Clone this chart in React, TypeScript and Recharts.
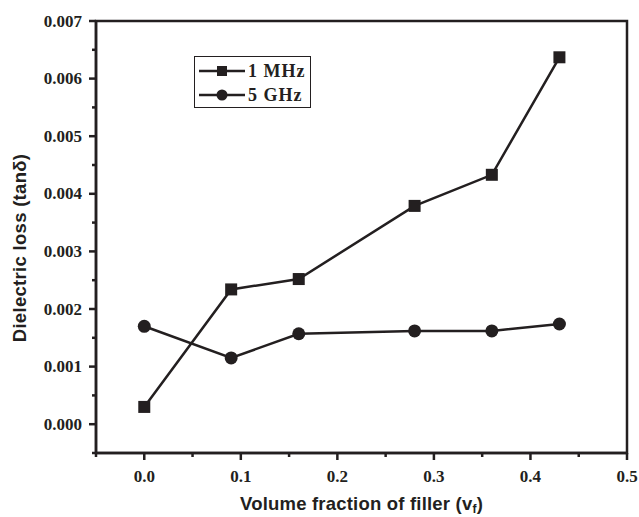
import React from "react";
import { LineChart, Line, XAxis, YAxis, ReferenceArea, Legend, Label } from "recharts";

const xValues = [0, 0.09, 0.16, 0.28, 0.36, 0.43];
const mhz1Values = [0.0003, 0.00234, 0.00252, 0.00379, 0.00433, 0.00637];
const ghz5Values = [0.0017, 0.00115, 0.00157, 0.00162, 0.00162, 0.00174];
const seriesNames = ["1 MHz", "5 GHz"];
const xTicks = [-0.05, 0, 0.05, 0.1, 0.15, 0.2, 0.25, 0.3, 0.35, 0.4, 0.45, 0.5];
const yTicks = [-0.0005, 0, 0.0005, 0.001, 0.0015, 0.002, 0.0025, 0.003, 0.0035, 0.004, 0.0045, 0.005, 0.0055, 0.006, 0.0065, 0.007];
const xTitle = "Volume fraction of filler (v";
const xTitleSub = "f";
const yTitle = "Dielectric loss (tanδ)";

const data = xValues.map((x, i) => ({ x, mhz: mhz1Values[i], ghz: ghz5Values[i] }));

const INK = "#231f20";
const SERIF = "'Liberation Serif', 'Times New Roman', serif";
const SANS = "'Liberation Sans', Arial, sans-serif";

const isMajor = (v: number, step: number) => Math.abs(v / step - Math.round(v / step)) < 1e-6;

const XTick = (props: any) => {
  const { x, y, payload } = props;
  const v = payload.value;
  const major = isMajor(v, 0.1);
  return (
    <g>
      <line x1={x} x2={x} y1={y} y2={y + (major ? 7 : 4)} stroke={INK} strokeWidth={2.5} />
      {major && (
        <text x={x} y={y + 29} textAnchor="middle" fontFamily={SERIF} fontWeight="bold" fontSize={17} fill={INK}>
          {v.toFixed(1)}
        </text>
      )}
    </g>
  );
};

const YTick = (props: any) => {
  const { x, y, payload } = props;
  const v = payload.value;
  const major = isMajor(v, 0.001);
  return (
    <g>
      <line x1={x} x2={x - (major ? 7 : 4)} y1={y} y2={y} stroke={INK} strokeWidth={2.5} />
      {major && (
        <text x={x - 14} y={y + 5.5} textAnchor="end" fontFamily={SERIF} fontWeight="bold" fontSize={17} fill={INK}>
          {v.toFixed(3)}
        </text>
      )}
    </g>
  );
};

const SquareDot = (p: any) => (
  <rect key={`sq${p.index}`} x={p.cx - 6} y={p.cy - 6} width={12} height={12} fill={INK} />
);
const CircleDot = (p: any) => (
  <circle key={`ci${p.index}`} cx={p.cx} cy={p.cy} r={6.5} fill={INK} />
);

const LegendBox = (props: any) => {
  const payload = props.payload || [];
  return (
    <div style={{ border: `1.5px solid ${INK}`, background: "#fff", width: 117, height: 52, boxSizing: "border-box", padding: "2px 0 0 3px" }}>
      {payload.map((entry: any, i: number) => (
        <div key={i} style={{ display: "flex", alignItems: "center", height: 24 }}>
          <svg width={48} height={16} style={{ display: "block" }}>
            <line x1={1} x2={47} y1={8} y2={8} stroke={INK} strokeWidth={2.5} />
            {entry.value === seriesNames[0] ? (
              <rect x={19} y={3} width={10} height={10} fill={INK} />
            ) : (
              <circle cx={24} cy={8} r={5.5} fill={INK} />
            )}
          </svg>
          <span style={{ fontFamily: SERIF, fontWeight: "bold", fontSize: 18, letterSpacing: 1, color: INK, marginLeft: 2, lineHeight: "16px" }}>
            {entry.value}
          </span>
        </div>
      ))}
    </div>
  );
};

const XTitle = (props: any) => {
  const vb = props.viewBox;
  const cx = vb.x + vb.width / 2;
  return (
    <text x={cx} y={510} textAnchor="middle" fontFamily={SANS} fontWeight="bold" fontSize={18.5} letterSpacing={0.2} fill={INK}>
      {xTitle}
      <tspan fontSize={12} dy={3}>{xTitleSub}</tspan>
      <tspan dy={-3}>)</tspan>
    </text>
  );
};

const YTitle = () => (
  <text x={26} y={248} transform="rotate(-90 26 248)" textAnchor="middle" fontFamily={SANS} fontWeight="bold" fontSize={18.5} letterSpacing={0.3} fill={INK}>
    {yTitle}
  </text>
);

export default function App() {
  return (
    <div style={{ position: "absolute", left: 0, top: 0, width: 639, height: 517, background: "#fff" }}>
      <LineChart width={639} height={517} data={data} margin={{ top: 21, right: 12, bottom: 0, left: 0 }}>
        <ReferenceArea x1={-0.05} x2={0.5} y1={-0.0005} y2={0.007} fill="none" stroke={INK} strokeWidth={2.5} ifOverflow="visible" />
        <XAxis
          dataKey="x"
          type="number"
          domain={[-0.05, 0.5]}
          ticks={xTicks}
          interval={0}
          height={64}
          tickSize={0}
          tickMargin={0}
          tickLine={false}
          axisLine={{ stroke: INK, strokeWidth: 2.5 }}
          tick={<XTick />}
        >
          <Label content={<XTitle />} />
        </XAxis>
        <YAxis
          type="number"
          domain={[-0.0005, 0.007]}
          ticks={yTicks}
          interval={0}
          width={96}
          tickSize={0}
          tickMargin={0}
          tickLine={false}
          axisLine={{ stroke: INK, strokeWidth: 2.5 }}
          tick={<YTick />}
        >
          <Label content={<YTitle />} />
        </YAxis>
        <Legend
          verticalAlign="middle"
          align="center"
          layout="horizontal"
          wrapperStyle={{ left: 194, top: 56, width: 117, height: 52 }}
          content={<LegendBox />}
        />
        <Line name={seriesNames[0]} dataKey="mhz" stroke={INK} strokeWidth={2.5} dot={SquareDot} activeDot={false} isAnimationActive={false} />
        <Line name={seriesNames[1]} dataKey="ghz" stroke={INK} strokeWidth={2.5} dot={CircleDot} activeDot={false} isAnimationActive={false} />
      </LineChart>
    </div>
  );
}
